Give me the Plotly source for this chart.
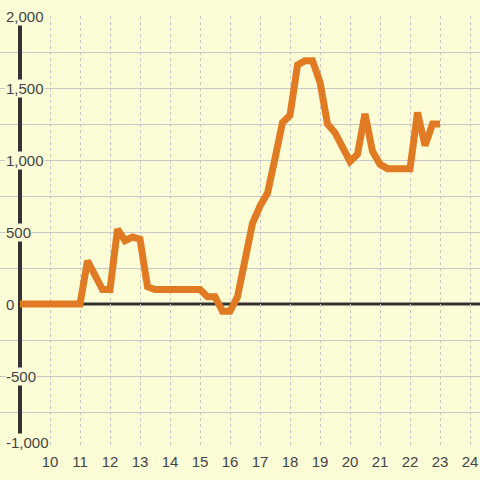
import plotly.graph_objects as go

# series sampled every quarter unit from 9 to 23
x_vals = [9.0, 9.25, 9.5, 9.75, 10.0, 10.25, 10.5, 10.75, 11.0, 11.25, 11.5, 11.75,
          12.0, 12.25, 12.5, 12.75, 13.0, 13.25, 13.5, 13.75, 14.0, 14.25, 14.5, 14.75,
          15.0, 15.25, 15.5, 15.75, 16.0, 16.25, 16.5, 16.75, 17.0, 17.25, 17.5, 17.75,
          18.0, 18.25, 18.5, 18.75, 19.0, 19.25, 19.5, 19.75, 20.0, 20.25, 20.5, 20.75,
          21.0, 21.25, 21.5, 21.75, 22.0, 22.25, 22.5, 22.75, 23.0]
y_vals = [0, 0, 0, 0, 0, 0, 0, 0, 0, 300, 190, 100,
          100, 520, 440, 465, 450, 120, 100, 100, 100, 100, 100, 100,
          100, 50, 50, -50, -50, 50, 300, 560, 680, 770, 1010, 1260,
          1310, 1660, 1690, 1690, 1540, 1250, 1190, 1090, 990, 1040, 1320, 1060,
          970, 940, 940, 940, 940, 1330, 1100, 1250, 1250]

x_ticks = list(range(10, 25))
y_ticks = [2000, 1500, 1000, 500, 0, -500, -1000]
y_grid = [v for v in range(-1000, 2001, 250) if v != 0]

BG = "#fcfcd6"
INK = "#333333"

fig = go.Figure()
fig.add_trace(go.Scatter(
    x=x_vals, y=y_vals, mode="lines",
    line=dict(color="#e07b24", width=7),
    showlegend=False, hoverinfo="skip"
))

# horizontal grid stops short of the label column: hide the left strip
shapes = [
    dict(type="rect", xref="paper", yref="paper", x0=0, x1=45 / 480, y0=0, y1=1,
         fillcolor=BG, line=dict(width=0), layer="between"),
    dict(type="line", xref="x", yref="y", x0=9, x1=9, y0=-1000, y1=2000,
         line=dict(color=INK, width=4), layer="between"),
    dict(type="line", xref="paper", yref="y", x0=45 / 480, x1=1, y0=0, y1=0,
         line=dict(color=INK, width=3), layer="between"),
]

annotations = []
for v in y_ticks:
    annotations.append(dict(
        x=5 / 480, xref="paper", xanchor="left", y=v, yref="y",
        text=f"{v:,}", showarrow=False, bgcolor=BG, borderpad=0,
        yshift=6 if v == -1000 else 0,
        font=dict(size=15, color="#444444")
    ))

fig.update_layout(
    width=480, height=480,
    margin=dict(l=0, r=0, t=16, b=32),
    paper_bgcolor=BG, plot_bgcolor=BG,
    font=dict(family="Liberation Sans, Arial, sans-serif", size=15, color="#444444"),
    shapes=shapes, annotations=annotations,
    xaxis=dict(range=[10 - 50 / 30, 10 + 430 / 30], tickvals=x_ticks,
               showgrid=True, gridcolor="#c4c4c4", griddash="dot", gridwidth=1,
               zeroline=False, showline=False, ticks="", ticklabelstandoff=3),
    yaxis=dict(range=[-1000, 2000], tickvals=y_grid, showticklabels=False,
               showgrid=True, gridcolor="#c8c8c8", gridwidth=1,
               zeroline=False, showline=False, ticks=""),
)

fig.write_html("out.html", config={"displayModeBar": False},
               post_script="document.body.style.margin='0';")
